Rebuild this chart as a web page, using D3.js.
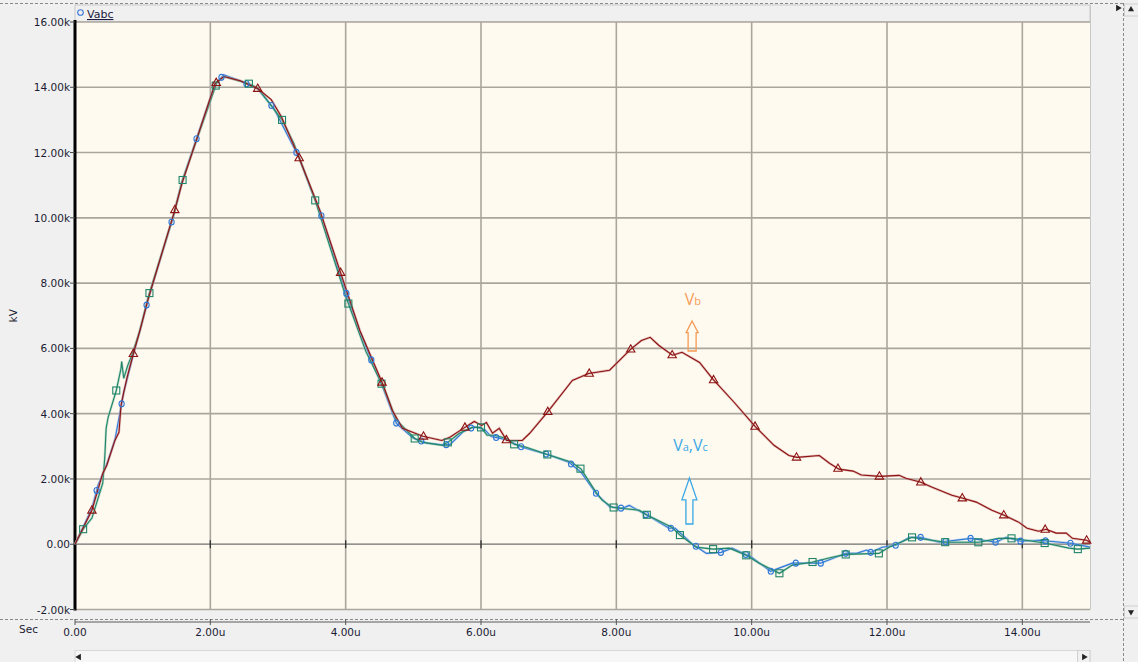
<!DOCTYPE html>
<html><head><meta charset="utf-8">
<script src="https://cdn.jsdelivr.net/npm/d3@7"></script>
<style>
html,body{margin:0;padding:0;background:#f0f0f0;overflow:hidden;}
svg{display:block;font-family:"DejaVu Sans",Tahoma,sans-serif;}
</style></head><body>
<svg id="chart" width="1138" height="662"></svg>
<script>
// Axis ticks (time in µs, voltage in kV)
const xTicks = [0, 2, 4, 6, 8, 10, 12, 14];
const xTickLabels = ["0.00", "2.00u", "4.00u", "6.00u", "8.00u", "10.00u", "12.00u", "14.00u"];
const yTicks = [-2, 0, 2, 4, 6, 8, 10, 12, 14, 16];
const yTickLabels = ["-2.00k", "0.00", "2.00k", "4.00k", "6.00k", "8.00k", "10.00k", "12.00k", "14.00k", "16.00k"];

// Phase voltages [t (µs), V (kV)]
const vbData = [
  [0,0],[0.25,1.04],[0.41,2.17],[0.47,2.42],[0.59,3.18],[0.65,3.43],[0.68,4.25],[0.72,4.65],
  [0.77,5.11],[0.86,5.82],[0.96,6.55],[1.08,7.5],[1.46,10.13],[1.58,11.05],[2.07,14.11],[2.2,14.33],
  [2.44,14.2],[2.70,13.96],[2.90,13.62],[3.05,13.1],[3.31,11.85],[3.62,10.22],[3.94,8.23],[4.21,6.55],[4.55,4.90],
  [4.69,4.10],[4.84,3.55],[5.14,3.31],[5.42,3.18],[5.54,3.28],[5.74,3.55],[5.90,3.76],[6.01,3.64],
  [6.08,3.73],[6.17,3.40],[6.27,3.55],[6.38,3.18],[6.61,3.18],[6.72,3.40],[6.98,4.04],[7.35,5.02],
  [7.59,5.23],[7.90,5.33],[8.21,5.97],[8.37,6.24],[8.50,6.34],[8.63,6.09],[8.83,5.79],[8.97,5.88],
  [9.23,5.57],[9.43,5.05],[9.74,4.35],[10.05,3.61],[10.33,3.03],[10.55,2.72],[10.67,2.66],[11.00,2.72],
  [11.15,2.48],[11.29,2.30],[11.50,2.24],[11.62,2.12],[11.90,2.08],[12.18,2.11],[12.28,2.02],[12.50,1.90],
  [12.66,1.75],[12.96,1.50],[13.12,1.41],[13.32,1.29],[13.55,1.04],[13.73,0.89],[13.95,0.67],[14.07,0.49],
  [14.24,0.40],[14.35,0.46],[14.50,0.34],[14.65,0.34],[14.74,0.18],[14.95,0.12],[15.0,0.06]
];
const vaData = [
  [0,0],[0.25,1.1],[0.34,1.8],[0.47,2.45],[0.59,3.2],[0.68,4.2],[0.72,4.65],[0.86,5.8],[0.96,6.55],
  [1.08,7.5],[1.46,10.1],[1.58,11.1],[2.07,14.1],[2.2,14.38],[2.44,14.2],[2.70,13.95],[2.94,13.35],
  [3.31,11.85],[3.50,10.8],[3.62,10.2],[3.94,8.1],[4.21,6.5],[4.43,5.39],[4.55,4.8],[4.75,3.7],
  [5.0,3.25],[5.2,3.1],[5.42,3.05],[5.54,3.05],[5.74,3.45],[5.90,3.6],[6.0,3.55],[6.06,3.5],
  [6.15,3.3],[6.27,3.25],[6.38,3.2],[6.61,2.97],[6.98,2.75],[7.30,2.51],[7.48,2.2],[7.70,1.56],
  [7.9,1.15],[8.09,1.10],[8.19,1.19],[8.53,0.80],[8.78,0.49],[8.87,0.49],[9.11,0.03],[9.33,-0.28],
  [9.55,-0.25],[9.71,-0.12],[10.0,-0.40],[10.28,-0.83],[10.6,-0.58],[11.02,-0.58],[11.39,-0.28],
  [11.55,-0.28],[11.7,-0.18],[11.76,-0.25],[11.93,-0.09],[12.13,-0.03],[12.33,0.21],[12.50,0.21],
  [12.77,0.06],[13.24,0.18],[13.61,0.06],[13.76,0.21],[13.98,0.09],[14.25,0.12],[14.72,0.03],[15.0,-0.09]
];
const vcData = [
  [0,0],[0.12,0.46],[0.25,0.80],[0.41,1.87],[0.44,2.66],[0.46,3.55],[0.49,3.89],[0.61,4.71],
  [0.68,5.39],[0.69,5.60],[0.72,5.08],[0.78,5.48],[0.84,5.79],[0.96,6.55],[1.08,7.56],[1.46,10.1],
  [1.58,11.1],[2.10,14.17],[2.2,14.33],[2.57,14.11],[2.70,13.98],[3.06,13.0],[3.23,12.3],[3.54,10.6],
  [4.0,7.6],[4.30,5.9],[4.49,5.1],[4.6,4.6],[4.75,3.8],[5.02,3.24],[5.14,3.12],[5.43,3.03],[5.51,3.12],
  [5.68,3.4],[5.87,3.58],[6.0,3.58],[6.09,3.34],[6.20,3.34],[6.38,3.24],[6.49,3.06],[6.67,2.97],
  [6.98,2.75],[7.34,2.51],[7.48,2.30],[7.70,1.59],[7.79,1.35],[7.94,1.13],[8.34,1.04],[8.46,0.89],
  [8.82,0.52],[8.94,0.28],[9.18,-0.09],[9.43,-0.15],[9.67,-0.12],[9.92,-0.34],[10.11,-0.58],
  [10.41,-0.89],[10.6,-0.64],[10.89,-0.55],[11.19,-0.40],[11.4,-0.31],[11.88,-0.28],[12.03,-0.09],
  [12.37,0.21],[12.66,0.12],[12.87,0.06],[13.36,0.06],[13.65,0.18],[13.85,0.18],[14.05,0.12],
  [14.35,0.03],[14.69,-0.12],[14.82,-0.15],[15.0,-0.12]
];

// Marker spacing along each trace: [first t, step]
const vaMarks = [0.32, 0.369];
const vbMarks = [0.25, 0.6125];
const vcMarks = [0.12, 0.49];

const svg = d3.select("#chart");
const W = 1138, H = 662;
const plot = {left: 75, right: 1090, top: 22, bottom: 609.5};

const x = d3.scaleLinear().domain([0, 15]).range([plot.left, plot.right]);
const y = d3.scaleLinear().domain([-2, 16]).range([plot.bottom, plot.top]);

// window background
svg.append("rect").attr("width", W).attr("height", H).attr("fill", "#f0f0f0");

// frame dashes
svg.append("line").attr("x1", 0).attr("x2", 1123).attr("y1", 3.5).attr("y2", 3.5)
  .attr("stroke", "#8a8a8a").attr("stroke-dasharray", "3,2");
svg.append("line").attr("x1", 1123.5).attr("x2", 1123.5).attr("y1", 3).attr("y2", 662)
  .attr("stroke", "#8a8a8a").attr("stroke-dasharray", "3,2");
svg.append("line").attr("x1", 0).attr("x2", 1123).attr("y1", 619.5).attr("y2", 619.5)
  .attr("stroke", "#8a8a8a").attr("stroke-dasharray", "3,2");

// legend band
svg.append("rect").attr("x", plot.left).attr("y", 5).attr("width", plot.right - plot.left).attr("height", plot.top - 5)
  .attr("fill", "#f0f0f0").attr("stroke", "#c8c8c8");

// plot background
svg.append("rect").attr("x", plot.left).attr("y", plot.top)
  .attr("width", plot.right - plot.left).attr("height", plot.bottom - plot.top)
  .attr("fill", "#fffaef");

// grid
const grid = svg.append("g");
xTicks.filter(d => d > 0).forEach(d => {
  grid.append("line").attr("x1", x(d)).attr("x2", x(d)).attr("y1", plot.top).attr("y2", plot.bottom)
    .attr("stroke", "#aaa69e").attr("stroke-width", 1.6);
});
yTicks.filter(d => d !== 0).forEach(d => {
  grid.append("line").attr("x1", plot.left).attr("x2", plot.right).attr("y1", y(d)).attr("y2", y(d))
    .attr("stroke", "#aaa69e").attr("stroke-width", 1.6);
});
// zero line with ticks
grid.append("line").attr("x1", plot.left).attr("x2", plot.right).attr("y1", y(0)).attr("y2", y(0))
  .attr("stroke", "#6f6f6f").attr("stroke-width", 1.2);
xTicks.filter(d => d > 0).forEach(d => {
  grid.append("line").attr("x1", x(d)).attr("x2", x(d)).attr("y1", y(0) - 4).attr("y2", y(0) + 4)
    .attr("stroke", "#333").attr("stroke-width", 1.3);
});
// plot right edge
svg.append("line").attr("x1", plot.right + 0.5).attr("x2", plot.right + 0.5).attr("y1", 5).attr("y2", plot.bottom)
  .attr("stroke", "#c8c8c8");

// y axis
const yAxis = svg.append("g");
yAxis.append("line").attr("x1", plot.left).attr("x2", plot.left).attr("y1", plot.top - 2).attr("y2", plot.bottom + 1)
  .attr("stroke", "#000").attr("stroke-width", 3);
yTicks.forEach((d, i) => {
  yAxis.append("line").attr("x1", plot.left - 5).attr("x2", plot.left).attr("y1", y(d)).attr("y2", y(d))
    .attr("stroke", "#444");
  yAxis.append("text").attr("x", plot.left - 5).attr("y", y(d) + 4).attr("text-anchor", "end")
    .attr("font-size", "10.5px").attr("fill", "#1b1b33").text(yTickLabels[i]);
});
svg.append("text").attr("transform", `translate(17,${(plot.top + plot.bottom) / 2}) rotate(-90)`)
  .attr("text-anchor", "middle").attr("font-size", "10.5px").attr("fill", "#1b1b33").text("kV");

// x axis (below plot)
const xAxisY = 622;
const xAxis = svg.append("g");
xAxis.append("line").attr("x1", plot.left).attr("x2", plot.right).attr("y1", xAxisY).attr("y2", xAxisY)
  .attr("stroke", "#8c8c8c").attr("stroke-width", 1.6);
xTicks.forEach((d, i) => {
  xAxis.append("line").attr("x1", x(d)).attr("x2", x(d)).attr("y1", xAxisY - 3).attr("y2", xAxisY + 3)
    .attr("stroke", "#555");
  xAxis.append("text").attr("x", x(d)).attr("y", 636).attr("text-anchor", "middle")
    .attr("font-size", "10.5px").attr("fill", "#1b1b33").text(xTickLabels[i]);
});
svg.append("text").attr("x", 19).attr("y", 633).attr("font-size", "10.5px").attr("fill", "#1b1b33").text("Sec");

// scrollbars
svg.append("rect").attr("x", plot.left).attr("y", 650.5).attr("width", plot.right - plot.left).attr("height", 12)
  .attr("fill", "#f7f7f7").attr("stroke", "#d8d8d8");
svg.append("path").attr("d", d3.symbol(d3.symbolTriangle, 18)()).attr("transform", "translate(79,657) rotate(-90)").attr("fill", "#222");
svg.append("rect").attr("x", 1077.5).attr("y", 650.5).attr("width", 12.5).attr("height", 12).attr("fill", "#f0f0f0").attr("stroke", "#d0d0d0");
svg.append("path").attr("d", d3.symbol(d3.symbolTriangle, 18)()).attr("transform", "translate(1084,657) rotate(90)").attr("fill", "#222");
svg.append("rect").attr("x", 1124.5).attr("y", 4).attr("width", 14).attr("height", 12).attr("fill", "#f0f0f0").attr("stroke", "#d0d0d0");
svg.append("path").attr("d", d3.symbol(d3.symbolTriangle, 16)()).attr("transform", "translate(1131,9.5)").attr("fill", "#222");
svg.append("rect").attr("x", 1124.5).attr("y", 606).attr("width", 14).attr("height", 12).attr("fill", "#f0f0f0").attr("stroke", "#d0d0d0");
svg.append("path").attr("d", d3.symbol(d3.symbolTriangle, 16)()).attr("transform", "translate(1131,612) rotate(180)").attr("fill", "#222");
svg.append("path").attr("d", d3.symbol(d3.symbolTriangle, 18)()).attr("transform", "translate(1118,8) rotate(90)").attr("fill", "#222");

// legend
svg.append("circle").attr("cx", 80.5).attr("cy", 12.5).attr("r", 2.8).attr("fill", "none").attr("stroke", "#3a78d8").attr("stroke-width", 1.1);
svg.append("text").attr("x", 87).attr("y", 18).attr("font-size", "11px").attr("fill", "#1b1b40")
  .attr("text-decoration", "underline").text("Vabc");

// traces
const line = d3.line().x(d => x(d[0])).y(d => y(d[1]));
function interp(data, t) {
  const i = d3.bisector(d => d[0]).right(data, t);
  if (i <= 0) return data[0][1];
  if (i >= data.length) return data[data.length - 1][1];
  const a = data[i - 1], b = data[i];
  return a[1] + (b[1] - a[1]) * (t - a[0]) / (b[0] - a[0]);
}
const traces = [
  {data: vaData, core: "#2f78d6", halo: "#8fb7ea", marks: vaMarks, sym: "circle"},
  {data: vcData, core: "#1f8468", halo: "#88c2ad", marks: vcMarks, sym: "square"},
  {data: vbData, core: "#8c1212", halo: "#c98a8a", marks: vbMarks, sym: "triangle"}
];
const gTr = svg.append("g");
traces.forEach(tr => {
  gTr.append("path").datum(tr.data).attr("d", line).attr("fill", "none")
    .attr("stroke", tr.halo).attr("stroke-width", 2.4).attr("stroke-opacity", 0.55);
  gTr.append("path").datum(tr.data).attr("d", line).attr("fill", "none")
    .attr("stroke", tr.core).attr("stroke-width", 1.1);
});
traces.forEach(tr => {
  const ts = d3.range(tr.marks[0], 15.01, tr.marks[1]);
  ts.forEach(t => {
    const px = x(t), py = y(interp(tr.data, t));
    if (tr.sym === "circle") {
      gTr.append("ellipse").attr("cx", px).attr("cy", py).attr("rx", 2.6).attr("ry", 3)
        .attr("fill", "none").attr("stroke", tr.core).attr("stroke-width", 1.1);
    } else if (tr.sym === "square") {
      gTr.append("rect").attr("x", px - 3.5).attr("y", py - 3.5).attr("width", 7).attr("height", 7)
        .attr("fill", "none").attr("stroke", tr.core).attr("stroke-width", 1.1);
    } else {
      gTr.append("path").attr("d", `M${px},${py - 4.5}L${px + 4.2},${py + 2.8}L${px - 4.2},${py + 2.8}Z`)
        .attr("fill", "none").attr("stroke", tr.core).attr("stroke-width", 1.1);
    }
  });
});

// annotations: hollow arrows and phase labels
function hollowArrow(cx, tipV, headV, baseV, headW, shaftW, color) {
  const tipY = y(tipV), headY = y(headV), baseY = y(baseV);
  const p = d3.path();
  p.moveTo(cx, tipY);
  p.lineTo(cx + headW / 2, headY);
  p.lineTo(cx + shaftW / 2, headY);
  p.lineTo(cx + shaftW / 2, baseY);
  p.lineTo(cx - shaftW / 2, baseY);
  p.lineTo(cx - shaftW / 2, headY);
  p.lineTo(cx - headW / 2, headY);
  p.closePath();
  svg.append("path").attr("d", p.toString()).attr("fill", "none").attr("stroke", color).attr("stroke-width", 1.3);
}
const orange = "#f59a55", cyan = "#3aa8e6";
hollowArrow(x(9.12), 6.84, 6.48, 5.92, 12, 8, orange);
hollowArrow(x(9.08), 2.03, 1.36, 0.62, 15, 7, cyan);

const labB = svg.append("text").attr("x", x(9.01)).attr("y", y(7.32)).attr("font-family", "Open Sans, sans-serif")
  .attr("font-size", "16px").attr("fill", orange);
labB.append("tspan").text("V");
labB.append("tspan").attr("font-size", "11px").text("b");

const labAC = svg.append("text").attr("x", x(8.84)).attr("y", y(2.86)).attr("font-family", "Open Sans, sans-serif")
  .attr("font-size", "16px").attr("fill", cyan);
labAC.append("tspan").text("V");
labAC.append("tspan").attr("font-size", "11px").text("a");
labAC.append("tspan").text(",V");
labAC.append("tspan").attr("font-size", "11px").text("c");
</script>
</body></html>
